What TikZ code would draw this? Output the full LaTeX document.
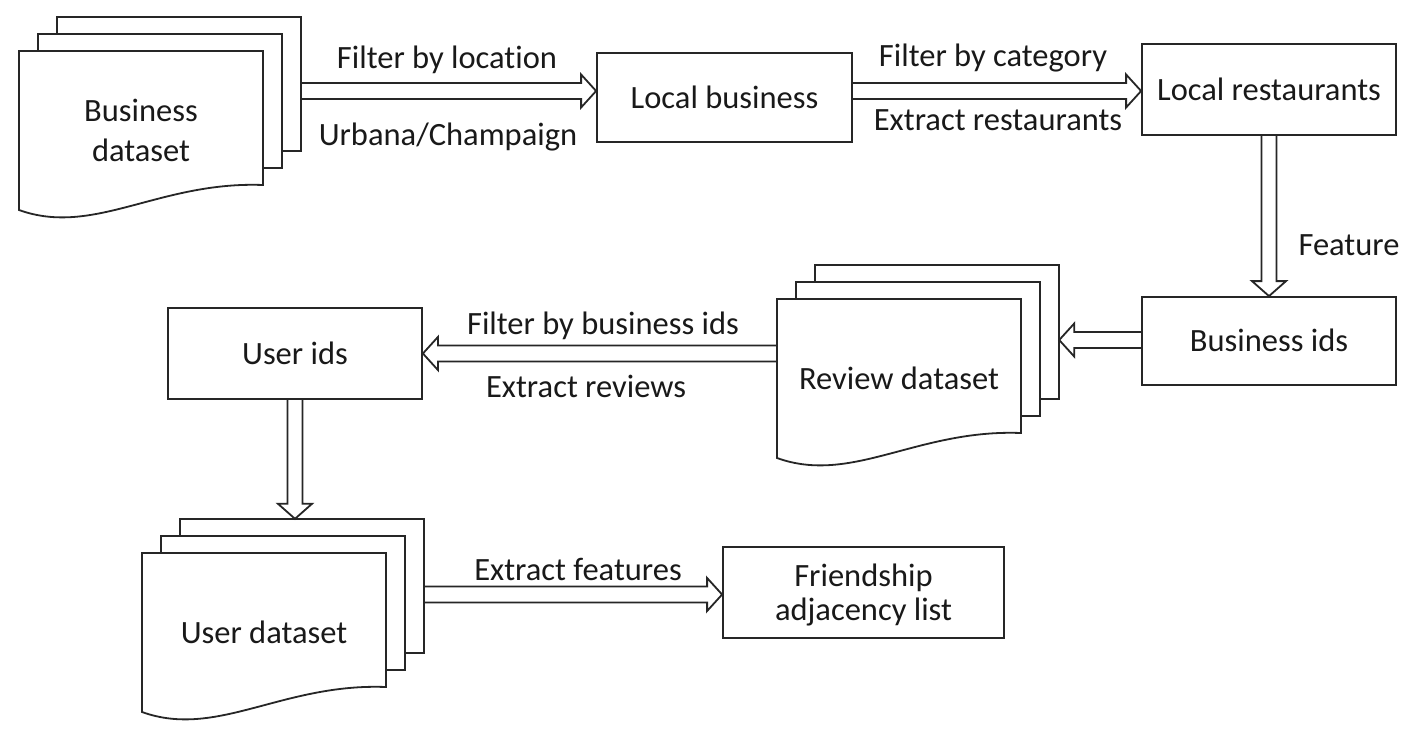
\documentclass[tikz,border=0pt]{standalone}
\usepackage{fontspec}
\setmainfont{Carlito}[Ligatures=NoCommon]
\usetikzlibrary{calc,fit}
\newcommand\fsz{\fontsize{32.5}{39}\selectfont}
\newcommand\fszdoc{\fontsize{32.5}{40}\selectfont}
\newcommand\fszfr{\fontsize{32.5}{34}\selectfont}
\tikzset{
  ln/.style={line width=1.8pt, draw=black!85},
  arr/.style={ln, line join=miter},
  box/.style={ln, rectangle, fill=white, inner sep=0pt, text height=21pt, text depth=0pt, font=\fsz, text=black!90},
  lbl/.style={anchor=base, inner sep=0pt, font=\fsz, text=black!90},
  doclayer/.style={ln, fill=white},
}
% multi-document symbol: name, left x of front sheet, top y of front sheet, text
\newcommand\multidoc[4]{%
  \draw[doclayer] (#2+38,#3-34) rectangle (#2+282,#3+100);
  \draw[doclayer] (#2+19,#3-17) rectangle (#2+263,#3+117);
  \draw[doclayer] (#2,#3) -- (#2+244,#3) -- (#2+244,#3+134)
     .. controls (#2+140,#3+130) and (#2+75,#3+186) .. (#2,#3+159) -- cycle;
  \node[inner sep=0pt, fit={(#2,#3-34) (#2+282,#3+159)}] (#1) {};
  \node[lbl, anchor=center, align=center, font=\fszdoc] (#1-t) at (#2+122,#3+79) {#4};
}
% horizontal hollow arrow: start, end, direction (1 right, -1 left)
\newcommand\harrow[3]{%
  \draw[arr] let \p1=(#1), \p2=(#2 |- #1) in
    (\x1,{\y1+8pt}) -- ({\x2-(#3)*15pt},{\y1+8pt}) -- ({\x2-(#3)*15pt},{\y1+16.5pt})
    -- (\x2,\y1) -- ({\x2-(#3)*15pt},{\y1-16.5pt}) -- ({\x2-(#3)*15pt},{\y1-8pt})
    -- (\x1,{\y1-8pt});
}
% vertical hollow arrow pointing down: start, end
\newcommand\varrow[2]{%
  \draw[arr] let \p1=(#1), \p2=(#2 -| #1) in
    ({\x1-7.5pt},\y1) -- ({\x1-7.5pt},{\y2+15pt}) -- ({\x1-17pt},{\y2+15pt})
    -- (\x1,\y2) -- ({\x1+17pt},{\y2+15pt}) -- ({\x1+7.5pt},{\y2+15pt})
    -- ({\x1+7.5pt},\y1);
}
\begin{document}
\begin{tikzpicture}[x=1pt,y=-1pt]
\useasboundingbox[fill=white] (0,0) rectangle (1416,736);

% documents
\multidoc{bd}{19}{51}{Business\\dataset}
\multidoc{rd}{777}{299}{Review dataset}
\multidoc{ud}{142}{553}{User dataset}

% boxes
\node[box, minimum width=255pt, minimum height=89pt] (lb) at (724.5,97.5) {Local business};
\node[box, minimum width=254pt, minimum height=91pt] (lr) at (1269,89.5) {Local restaurants};
\node[box, minimum width=254pt, minimum height=88pt] (bi) at (1269,341) {Business ids};
\node[box, minimum width=254pt, minimum height=91pt] (ui) at (295,353.5) {User ids};
\node[ln, rectangle, fill=white, inner sep=0pt, minimum width=281pt, minimum height=91pt,
      align=center, font=\fszfr, text=black!90] (fr) at (863.5,592.5)
      {Friendship\\\smash{adjacency list}};

% arrow start points
\coordinate (s1) at (bd.east |- 0,91);
\coordinate (s2) at (lb.east |- 0,91);
\coordinate (s4) at (bi.west |- 0,340);
\coordinate (s5) at (rd.west |- 0,353.5);
\coordinate (s7) at (ud.east |- 0,594.5);

% connectors
\harrow{s1}{lb.west}{1}
\harrow{s2}{lr.west}{1}
\varrow{lr.south}{bi.north}
\harrow{s4}{rd.east}{-1}
\harrow{s5}{ui.east}{-1}
\varrow{ui.south}{ud.north}
\harrow{s7}{fr.west}{1}

% labels
\node[lbl] (l1) at (447,68) {Filter by location};
\node[lbl] (l2) at (448,145) {Urbana/Champaign};
\node[lbl] (l3) at (993,66) {Filter by category};
\node[lbl] (l4) at (998,130) {Extract restaurants};
\node[lbl] (l5) at (1349,255) {Feature};
\node[lbl] (l6) at (603,334) {Filter by business ids};
\node[lbl] (l7) at (586,397) {Extract reviews};
\node[lbl] (l8) at (578,580) {Extract features};
\end{tikzpicture}
\end{document}
